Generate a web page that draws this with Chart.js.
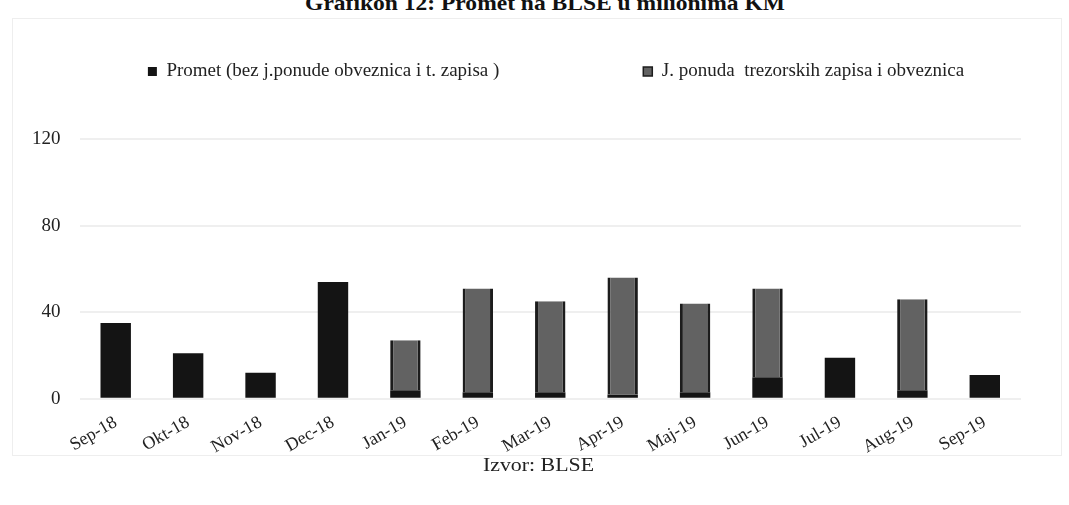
<!DOCTYPE html>
<html>
<head>
<meta charset="utf-8">
<script src="https://cdn.jsdelivr.net/npm/chart.js@4"></script>
<style>
    body { margin: 0; background: #fff; }
    #wrap { position: relative; width: 1069px; height: 505px; overflow: hidden; font-family: 'Liberation Serif', serif; }
    #frame { position: absolute; left: 12px; top: 18px; width: 1048px; height: 436px; border: 1px solid #eeeeee; }
    #naslov { position: absolute; top: -9px; left: 0; width: 1090px; text-align: center; font-weight: bold; font-size: 21px; color: #111; transform: scaleX(1.12); }
    #izvor { position: absolute; top: 454px; left: 0; width: 1077px; text-align: center; font-size: 19px; color: #222; transform: scaleX(1.15); }
    #chartBox { position: absolute; left: 0; top: 0; width: 1069px; height: 505px; }
</style>
</head>
<body>
<div id="wrap">
    <div id="frame"></div>
    <div id="naslov">Grafikon 12: Promet na BLSE u milionima KM</div>
    <div id="chartBox"><canvas id="myChart"></canvas></div>
    <div id="izvor">Izvor: BLSE</div>
</div>
<script>
const mjeseci = ['Sep-18', 'Okt-18', 'Nov-18', 'Dec-18', 'Jan-19', 'Feb-19', 'Mar-19', 'Apr-19', 'Maj-19', 'Jun-19', 'Jul-19', 'Aug-19', 'Sep-19'];
const promet = [35, 21, 12, 54, 4, 3, 3, 2, 3, 10, 19, 4, 11];
const ponuda = [0, 0, 0, 0, 23, 48, 42, 54, 41, 41, 0, 42, 0];
const yTicks = [0, 40, 80, 120];

// legenda: dodatni prostor ispod i pomak udesno
const legendaFix = {
    id: 'legendaFix',
    afterInit(chart) {
        const leg = chart.legend;
        const fit = leg.fit.bind(leg);
        leg.fit = function () { fit(); this.height = 107; };
        const draw = leg.draw.bind(leg);
        leg.draw = function () {
            const c = chart.ctx;
            c.save();
            c.translate(39, 0);
            draw();
            c.restore();
        };
    }
};

const ctx = document.getElementById('myChart');

new Chart(ctx, {
    type: 'bar',
    data: {
        labels: mjeseci,
        datasets: [{
            label: 'Promet (bez j.ponude obveznica i t. zapisa )' + ' '.repeat(24),
            data: promet,
            backgroundColor: '#141414',
            barPercentage: 0.42,
            categoryPercentage: 1
        }, {
            label: 'J. ponuda  trezorskih zapisa i obveznica',
            data: ponuda,
            backgroundColor: '#626262',
            borderColor: '#1c1c1c',
            borderWidth: { left: 3, right: 3, top: 0, bottom: 0 },
            borderSkipped: false,
            barPercentage: 0.42,
            categoryPercentage: 1
        }]
    },
    plugins: [legendaFix],
    options: {
        responsive: true,
        maintainAspectRatio: false,
        animation: false,
        layout: {
            padding: { top: 32, left: 13, right: 48, bottom: 42 }
        },
        plugins: {
            legend: {
                position: 'top',
                labels: {
                    boxWidth: 9,
                    boxHeight: 9,
                    padding: 30,
                    color: '#222',
                    font: { family: 'Liberation Serif', size: 19 }
                }
            },
            tooltip: { enabled: false }
        },
        scales: {
            x: {
                stacked: true,
                grid: { display: false },
                border: { display: false },
                ticks: {
                    minRotation: 30,
                    maxRotation: 30,
                    padding: 5,
                    color: '#222',
                    font: { family: 'Liberation Serif', size: 18 }
                }
            },
            y: {
                stacked: true,
                min: 0,
                max: 120,
                afterBuildTicks: (axis) => { axis.ticks = yTicks.map(v => ({ value: v })); },
                grid: { color: '#efefef', lineWidth: 2, drawTicks: false },
                border: { display: false },
                ticks: {
                    padding: 19,
                    color: '#222',
                    font: { family: 'Liberation Serif', size: 19 }
                }
            }
        }
    }
});
</script>
</body>
</html>
